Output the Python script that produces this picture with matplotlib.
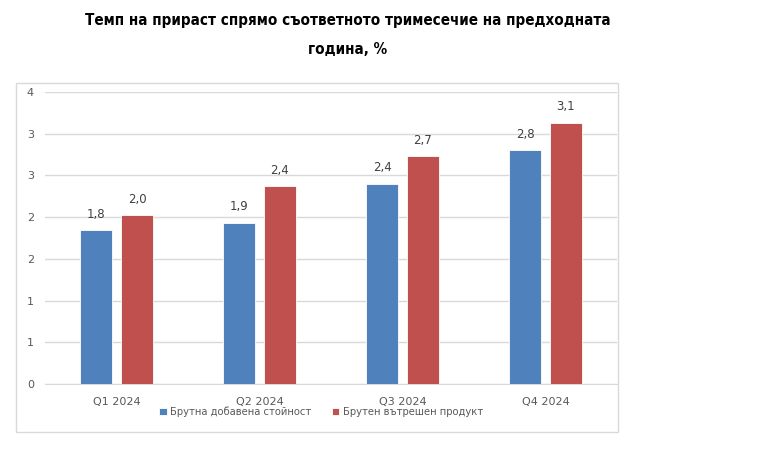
import math
import matplotlib
matplotlib.use("Agg")
import matplotlib.pyplot as plt
from matplotlib.patches import Rectangle
from matplotlib.ticker import FuncFormatter
from matplotlib.font_manager import FontProperties
import numpy as np

quarters = ["Q1 2024", "Q2 2024", "Q3 2024", "Q4 2024"]
gva = [1.84, 1.93, 2.40, 2.80]   # Брутна добавена стойност
gdp = [2.02, 2.37, 2.73, 3.13]   # Брутен вътрешен продукт
series_names = ["Брутна добавена стойност", "Брутен вътрешен продукт"]
title = "Темп на прираст спрямо съответното тримесечие на предходната\nгодина, %"

blue = "#4f81bd"
red = "#c0504d"
txt = "#595959"

plt.rcParams["font.family"] = ["DejaVu Sans"]

fig = plt.figure(figsize=(7.68, 4.68), dpi=100)
W, H = 768, 468

# outer chart frame
fig.patches.append(Rectangle((16 / W, 1 - 432 / H), (618 - 16) / W, (432 - 83) / H,
                             transform=fig.transFigure, fill=False,
                             edgecolor="#d9d9d9", linewidth=1))

ax = fig.add_axes([45 / W, 1 - 384 / H, (617 - 45) / W, (384 - 92) / H])

x = np.arange(len(quarters))
bw = 0.224
off = 0.143
b1 = ax.bar(x - off, gva, bw, color=blue, edgecolor="white", linewidth=0.6,
            label=series_names[0], zorder=3)
b2 = ax.bar(x + off, gdp, bw, color=red, edgecolor="white", linewidth=0.6,
            label=series_names[1], zorder=3)

for bars, vals in ((b1, gva), (b2, gdp)):
    for r, v in zip(bars, vals):
        ax.annotate(f"{v:.1f}".replace(".", ","),
                    (r.get_x() + r.get_width() / 2, r.get_height()),
                    xytext=(0, 7), textcoords="offset points",
                    ha="center", va="bottom", fontsize=8.5, color="#404040")

ax.set_xlim(-0.5, len(quarters) - 0.5)
ax.set_ylim(0, 3.5)
ax.set_yticks(np.arange(0, 3.51, 0.5))
ax.yaxis.set_major_formatter(FuncFormatter(lambda v, p: str(int(math.floor(v + 0.5)))))
ax.set_xticks(x)
ax.set_xticklabels(quarters)
ax.tick_params(axis="both", length=0, labelsize=8, labelcolor=txt)
ax.tick_params(axis="y", pad=8)
ax.tick_params(axis="x", pad=9)

ax.grid(axis="y", color="#d9d9d9", linewidth=1, zorder=0)
for s in ("top", "right", "left"):
    ax.spines[s].set_visible(False)
ax.spines["bottom"].set_color("#d9d9d9")

leg_font = FontProperties(family="DejaVu Sans", stretch="condensed", size=8)
fig.legend(loc="center", bbox_to_anchor=(321 / W, 1 - 412 / H), ncol=2,
           frameon=False, prop=leg_font, labelcolor=txt, handlelength=0.7,
           handleheight=0.7, handletextpad=0.3, columnspacing=1.8)

fig.text(348 / W, 1 - 35 / H, title, ha="center", va="center", fontsize=10.9,
         fontweight="bold", fontstretch="condensed", color="black",
         linespacing=2.15, family=["DejaVu Sans"])

fig.savefig("out.png", dpi=100)
